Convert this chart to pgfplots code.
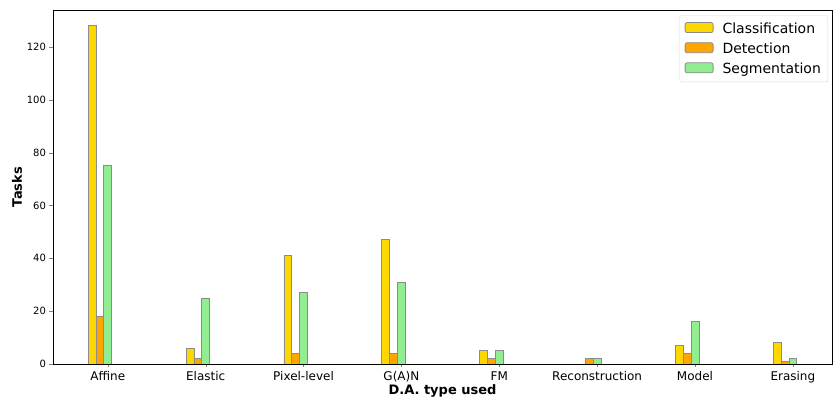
\documentclass[border=0pt]{standalone}
\usepackage{fontspec}
\setmainfont{DejaVu Sans}
\usepackage{pgfplots}
\pgfplotsset{compat=1.18}
\definecolor{cgold}{HTML}{FFD700}
\definecolor{corange}{HTML}{FFA500}
\definecolor{cgreen}{HTML}{90EE90}
\definecolor{cedge}{HTML}{8C8C8C}
\begin{document}
\begin{tikzpicture}
\begin{axis}[
  scale only axis,
  width=779pt, height=354pt,
  ybar, bar width=0.08,
  xmin=-0.56, xmax=7.40,
  ymin=0, ymax=134,
  xtick={0,...,7},
  xticklabels={Affine,Elastic,Pixel-level,G(A)N,FM,Reconstruction,Model,Erasing},
  ytick={0,20,...,120},
  tick pos=left, tick align=outside,
  major tick length=3.5pt,
  /pgf/number format/assume math mode=true,
  xticklabel style={font=\fontsize{12}{14}\selectfont, text height=9pt, text depth=3pt},
  yticklabel style={font=\fontsize{10}{12}\selectfont},
  xlabel={\bfseries D.A. type used},
  ylabel={\bfseries Tasks},
  label style={font=\fontsize{13}{15}\selectfont},
  xlabel style={yshift=5pt},
  ylabel style={yshift=-2pt},
  every axis plot/.append style={draw=cedge, line width=0.8pt},
  legend style={at={(0.995,0.985)}, anchor=north east, draw=black!15, rounded corners=2pt,
    font=\fontsize{14}{16}\selectfont, row sep=4pt, inner sep=5pt},
  legend cell align=left,
  legend image code/.code={\draw[#1] (0pt,-4pt) rectangle (28pt,6pt); \path (35pt,0pt);},
]
\addplot[fill=cgold, bar shift=-0.16] coordinates {(0,128) (1,6) (2,41) (3,47) (4,5) (5,0) (6,7) (7,8)};
\addplot[fill=corange, bar shift=-0.08] coordinates {(0,18) (1,2) (2,4) (3,4) (4,2) (5,2) (6,4) (7,1)};
\addplot[fill=cgreen, bar shift=0] coordinates {(0,75) (1,25) (2,27) (3,31) (4,5) (5,2) (6,16) (7,2)};
\legend{Classification,Detection,Segmentation}
\end{axis}
\path (current axis.south west) ++(-53pt,-40pt) rectangle ++(833pt,404pt);
\end{tikzpicture}
\end{document}
